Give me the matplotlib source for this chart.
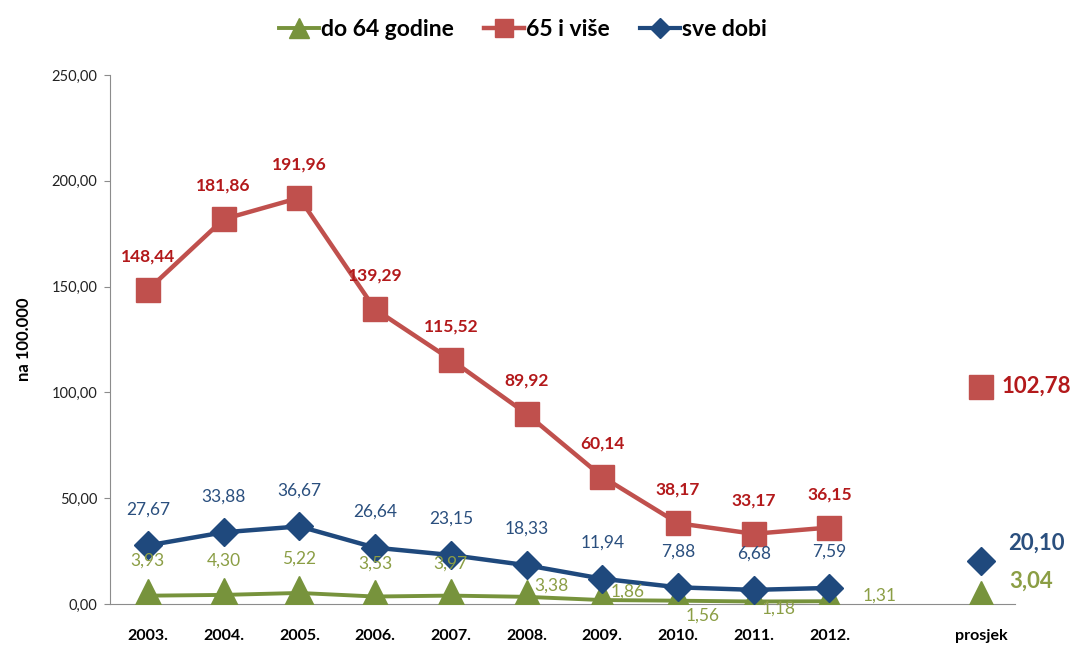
import matplotlib
matplotlib.use("Agg")
import matplotlib.pyplot as plt
from matplotlib.lines import Line2D

plt.rcParams['font.family'] = ['Lato', 'DejaVu Sans']

years = ["2003.", "2004.", "2005.", "2006.", "2007.", "2008.", "2009.", "2010.", "2011.", "2012."]
avg_label = "prosjek"
do64 = [3.93, 4.30, 5.22, 3.53, 3.97, 3.38, 1.86, 1.56, 1.18, 1.31]
do64_avg = 3.04
plus65 = [148.44, 181.86, 191.96, 139.29, 115.52, 89.92, 60.14, 38.17, 33.17, 36.15]
plus65_avg = 102.78
sve = [27.67, 33.88, 36.67, 26.64, 23.15, 18.33, 11.94, 7.88, 6.68, 7.59]
sve_avg = 20.10
series_names = ["do 64 godine", "65 i više", "sve dobi"]

GREEN = "#77933C"
GREEN_T = "#8B9E45"
RED = "#C0504D"
RED_T = "#B3191B"
BLUE = "#1F497D"
BLUE_T = "#2A4F7E"

def fmt(v):
    return f"{v:.2f}".replace(".", ",")

fig = plt.figure(figsize=(10.85, 6.54), dpi=100)
ax = fig.add_axes([110/1085, 50/654, (1015-110)/1085, (604-75)/654])

x = list(range(len(years)))
xa = len(years) + 1

TRI_MS, SQ_MS, DI_MS = 24, 17.5, 14
ax.plot(x, do64, color=GREEN, lw=2.8, marker="^", ms=TRI_MS, zorder=3)
ax.plot(x, plus65, color=RED, lw=3.2, marker="s", ms=SQ_MS, zorder=3)
ax.plot(x, sve, color=BLUE, lw=3.2, marker="D", ms=DI_MS, zorder=4)
ax.plot([xa], [do64_avg], color=GREEN, marker="^", ms=TRI_MS, ls="none", zorder=3)
ax.plot([xa], [plus65_avg], color=RED, marker="s", ms=SQ_MS, ls="none", zorder=3)
ax.plot([xa], [sve_avg], color=BLUE, marker="D", ms=DI_MS, ls="none", zorder=4)

for i, v in enumerate(plus65):
    ax.annotate(fmt(v), (i, v), xytext=(0, 24), textcoords="offset points",
                ha="center", va="center", color=RED_T, fontsize=12.5, fontweight="bold", zorder=5)
for i, v in enumerate(sve):
    ax.annotate(fmt(v), (i, v), xytext=(0, 26), textcoords="offset points",
                ha="center", va="center", color=BLUE_T, fontsize=12.5, zorder=5)
green_offsets = [(0, 25), (0, 25), (0, 25), (0, 24), (0, 23), (18, 8), (18, 6), (18, -11), (18, -5), (36, 4)]
for i, v in enumerate(do64):
    dx, dy = green_offsets[i]
    ax.annotate(fmt(v), (i, v), xytext=(dx, dy), textcoords="offset points",
                ha="center", va="center", color=GREEN_T, fontsize=12.5, zorder=5)

ax.annotate(fmt(plus65_avg), (xa, plus65_avg), xytext=(40, 0), textcoords="offset points",
            ha="center", va="center", color=RED_T, fontsize=16, fontweight="bold")
ax.annotate(fmt(sve_avg), (xa, sve_avg), xytext=(40, 13), textcoords="offset points",
            ha="center", va="center", color=BLUE_T, fontsize=16, fontweight="bold")
ax.annotate(fmt(do64_avg), (xa, do64_avg), xytext=(36, 12), textcoords="offset points",
            ha="center", va="center", color=GREEN_T, fontsize=16, fontweight="bold")

ax.set_xlim(-0.5, len(years) + 1.45)
ax.set_ylim(0, 250)
ax.set_yticks(range(0, 251, 50))
ax.set_yticklabels([fmt(t) for t in range(0, 251, 50)], fontsize=10.5, color="#222222")
ax.set_xticks(x + [xa])
ax.set_xticklabels(years + [avg_label], fontsize=11.5, fontweight="bold")
ax.tick_params(axis="x", length=0, pad=18)
ax.tick_params(axis="y", length=4, color="#8C8C8C", pad=5)
for s in ["top", "right"]:
    ax.spines[s].set_visible(False)
ax.spines["left"].set_color("#8C8C8C")
ax.spines["bottom"].set_color("#8C8C8C")
ax.set_ylabel("na 100.000", fontsize=12, fontweight="bold", labelpad=14)

handles = [
    Line2D([], [], color=GREEN, lw=2.8, marker="^", ms=15),
    Line2D([], [], color=RED, lw=3.2, marker="s", ms=13),
    Line2D([], [], color=BLUE, lw=3.0, marker="D", ms=10),
]
fig.legend(handles, series_names, loc="center", bbox_to_anchor=(523/1085, 1 - 30/654),
           ncol=3, frameon=False, prop={"weight": "bold", "size": 16.5},
           handlelength=1.75, handletextpad=0.1, columnspacing=1.3)

fig.savefig("out.png", dpi=100, facecolor="white")
